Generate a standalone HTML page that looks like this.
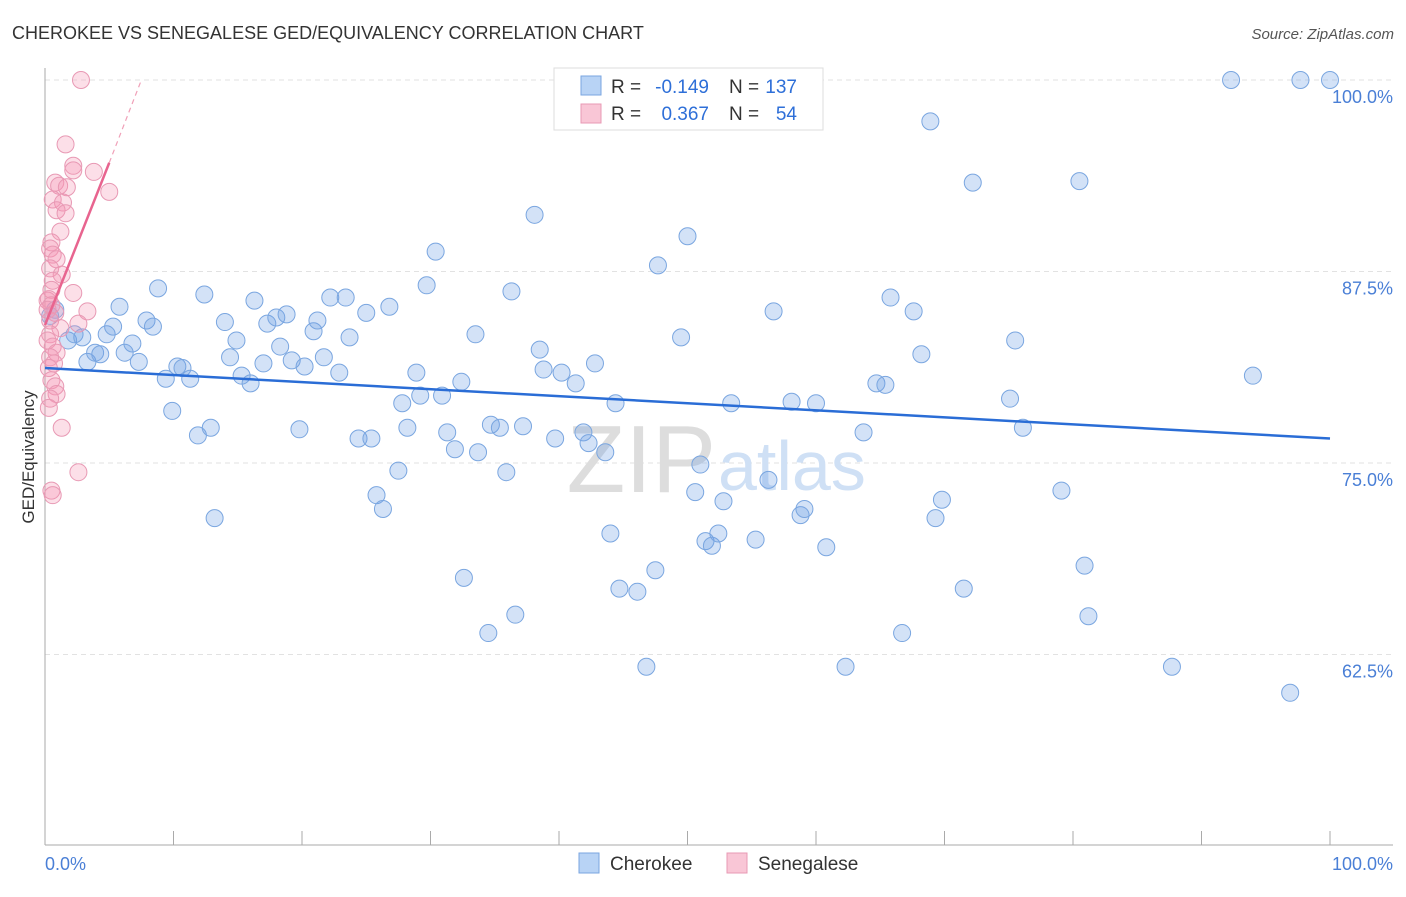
<!DOCTYPE html>
<html><head><meta charset="utf-8"><style>
body{margin:0;background:#fff;font-family:"Liberation Sans",sans-serif}
svg text{font-family:"Liberation Sans",sans-serif}
</style></head><body>
<svg id="c" width="1406" height="892">
<text x="12" y="39" font-size="18" fill="#333">CHEROKEE VS SENEGALESE GED/EQUIVALENCY CORRELATION CHART</text>
<text x="1394" y="39" font-size="15" fill="#555" text-anchor="end" font-style="italic">Source: ZipAtlas.com</text>
<g id="grid"></g>
<text x="716" y="492" font-size="96" fill="#ddd" text-anchor="end" font-family="Liberation Serif">ZIP</text>
<text x="718" y="490" font-size="70" fill="#cfe0f5">atlas</text>
<g id="pts"></g>
<g id="lines"></g>
<text transform="translate(34,457) rotate(-90)" font-size="17" fill="#333" text-anchor="middle">GED/Equivalency</text>
<g>
<rect x="554" y="68" width="269" height="62" fill="#fff" stroke="#ddd"/>
<rect x="581" y="76" width="20" height="19" fill="#b8d3f5" stroke="#7aa6e0"/>
<rect x="581" y="104" width="20" height="19" fill="#f9c6d6" stroke="#e899b4"/>
<text x="611" y="93" font-size="19" fill="#333">R =</text>
<text x="709" y="93" font-size="19" fill="#2e6fd8" text-anchor="end">-0.149</text>
<text x="729" y="93" font-size="19" fill="#333">N =</text>
<text x="797" y="93" font-size="19" fill="#2e6fd8" text-anchor="end">137</text>
<text x="611" y="120" font-size="19" fill="#333">R =</text>
<text x="709" y="120" font-size="19" fill="#2e6fd8" text-anchor="end">0.367</text>
<text x="729" y="120" font-size="19" fill="#333">N =</text>
<text x="797" y="120" font-size="19" fill="#2e6fd8" text-anchor="end">54</text>
</g>
<g>
<rect x="579" y="853" width="20" height="20" fill="#b8d3f5" stroke="#7aa6e0"/>
<text x="610" y="870" font-size="19" fill="#333">Cherokee</text>
<rect x="727" y="853" width="20" height="20" fill="#f9c6d6" stroke="#e899b4"/>
<text x="758" y="870" font-size="19" fill="#333">Senegalese</text>
</g>
</svg>
<script>
const yTicks=[100,87.5,75,62.5];
const yTickLabels=["100.0%","87.5%","75.0%","62.5%"];
const xLabels=["0.0%","100.0%"];
const blueX=[0.8,0.4,1.8,2.3,2.9,3.3,3.9,4.3,4.8,5.3,5.8,6.2,6.8,7.3,7.9,8.4,8.8,9.4,9.9,10.3,10.7,11.3,11.9,12.4,12.9,13.2,14.0,14.4,14.9,15.3,16.0,16.3,17.0,17.3,18.0,18.3,18.8,19.2,19.8,20.2,20.9,21.2,21.7,22.2,22.9,23.4,23.7,24.4,25.0,25.4,25.8,26.3,26.8,27.5,27.8,28.2,28.9,29.2,29.7,30.4,30.9,31.3,31.9,32.4,32.6,33.5,33.7,34.5,34.7,35.4,35.9,36.3,36.6,37.2,38.1,38.5,38.8,39.7,40.2,41.3,41.9,42.3,42.8,43.6,44.0,44.4,44.7,46.1,46.8,47.5,47.7,49.5,50.0,50.6,51.0,51.4,51.9,52.4,52.8,53.4,53.7,55.3,56.3,56.7,58.1,58.8,59.1,60.0,60.8,62.3,63.7,64.7,65.4,65.8,66.7,67.6,68.2,68.9,69.3,69.8,71.5,72.2,75.1,75.5,76.1,79.1,80.5,80.9,81.2,87.7,92.3,94.0,96.9,97.7,100];
const blueY=[85.0,84.6,83.0,83.4,83.2,81.6,82.2,82.1,83.4,83.9,85.2,82.2,82.8,81.6,84.3,83.9,86.4,80.5,78.4,81.3,81.2,80.5,76.8,86.0,77.3,71.4,84.2,81.9,83.0,80.7,80.2,85.6,81.5,84.1,84.5,82.6,84.7,81.7,77.2,81.3,83.6,84.3,81.9,85.8,80.9,85.8,83.2,76.6,84.8,76.6,72.9,72.0,85.2,74.5,78.9,77.3,80.9,79.4,86.6,88.8,79.4,77.0,75.9,80.3,67.5,83.4,75.7,63.9,77.5,77.3,74.4,86.2,65.1,77.4,91.2,82.4,81.1,76.6,80.9,80.2,77.0,76.3,81.5,75.7,70.4,78.9,66.8,66.6,61.7,68.0,87.9,83.2,89.8,73.1,74.9,69.9,69.6,70.4,72.5,78.9,100,70.0,73.9,84.9,79.0,71.6,72.0,78.9,69.5,61.7,77.0,80.2,80.1,85.8,63.9,84.9,82.1,97.3,71.4,72.6,66.8,93.3,79.2,83.0,77.3,73.2,93.4,68.3,65.0,61.7,100,80.7,60.0,100,100];
const pinkX=[2.8,1.6,2.2,2.2,3.8,0.8,1.1,1.7,5.0,0.6,1.4,0.9,1.6,1.2,0.5,0.4,0.6,0.9,0.4,1.3,0.6,2.2,0.5,0.2,0.3,0.5,0.2,3.3,0.8,0.4,2.6,1.2,0.4,0.2,0.6,0.9,0.4,0.7,0.3,0.5,0.8,0.9,0.4,0.3,1.3,2.6,0.5,0.6];
const pinkY=[100,95.8,94.4,94.1,94.0,93.3,93.1,93.0,92.7,92.2,92.0,91.5,91.3,90.1,89.4,89.0,88.6,88.3,87.7,87.3,86.9,86.1,86.3,85.6,85.7,85.3,85.0,84.9,84.8,84.3,84.1,83.8,83.4,83.0,82.6,82.2,81.9,81.5,81.2,80.4,80.0,79.5,79.2,78.6,77.3,74.4,73.2,72.9];
const blueTrend=[[0,81.2],[100,76.6]];
const pinkTrend=[[0,84.0],[5,94.6]];
const pinkDash=[[5,94.6],[7.5,100]];
const X=v=>45+v*12.85, Y=v=>80+(100-v)*15.32;
const NS="http://www.w3.org/2000/svg";
function mk(t,a,p){const e=document.createElementNS(NS,t);for(const k in a)e.setAttribute(k,a[k]);p.appendChild(e);return e;}
const g=document.getElementById('grid');
yTicks.forEach((t,i)=>{
 const l=mk('line',{x1:45,x2:1393,y1:Y(t),y2:Y(t),stroke:'#e2e2e2','stroke-dasharray':'5,4'},g);
 
 
 const tx=mk('text',{x:1393,y:Y(t)+23,'font-size':18,fill:'#4a7fd6','text-anchor':'end'},g);
 tx.textContent=yTickLabels[i];
 
 
});
mk('line',{x1:45,x2:45,y1:68,y2:845,stroke:'#aaa'},g);
mk('line',{x1:45,x2:1393,y1:845,y2:845,stroke:'#aaa'},g);
for(let i=0;i<=10;i++){const l=mk('line',{x1:X(i*10),x2:X(i*10),y1:845,y2:831,stroke:'#aaa'},g);
 
 }
[[0,'start',45],[1,'end',1393]].forEach(([i,a,x])=>{const t=mk('text',{x:x,y:870,'font-size':18,fill:'#4a7fd6','text-anchor':a},g);t.textContent=xLabels[i];
 
 });
const p=document.getElementById('pts');
blueX.forEach((x,i)=>{const c=mk('circle',{cx:X(x),cy:Y(blueY[i]),r:8.5,fill:'rgba(110,160,230,0.3)',stroke:'#7aa6e0','stroke-width':1},p);
 
 });
pinkX.forEach((x,i)=>{const c=mk('circle',{cx:X(x),cy:Y(pinkY[i]),r:8.5,fill:'rgba(245,150,180,0.3)',stroke:'#e899b4','stroke-width':1},p);
 
 });
const L=document.getElementById('lines');
let l=mk('line',{x1:X(blueTrend[0][0]),y1:Y(blueTrend[0][1]),x2:X(blueTrend[1][0]),y2:Y(blueTrend[1][1]),stroke:'#2a6dd6','stroke-width':2.5},L);


l=mk('line',{x1:X(pinkTrend[0][0]),y1:Y(pinkTrend[0][1]),x2:X(pinkTrend[1][0]),y2:Y(pinkTrend[1][1]),stroke:'#e8648f','stroke-width':2.5},L);


l=mk('line',{x1:X(pinkDash[0][0]),y1:Y(pinkDash[0][1]),x2:X(pinkDash[1][0]),y2:Y(pinkDash[1][1]),stroke:'#f0a0b8','stroke-width':1.2,'stroke-dasharray':'5,4'},L);


</script>
</body></html>
